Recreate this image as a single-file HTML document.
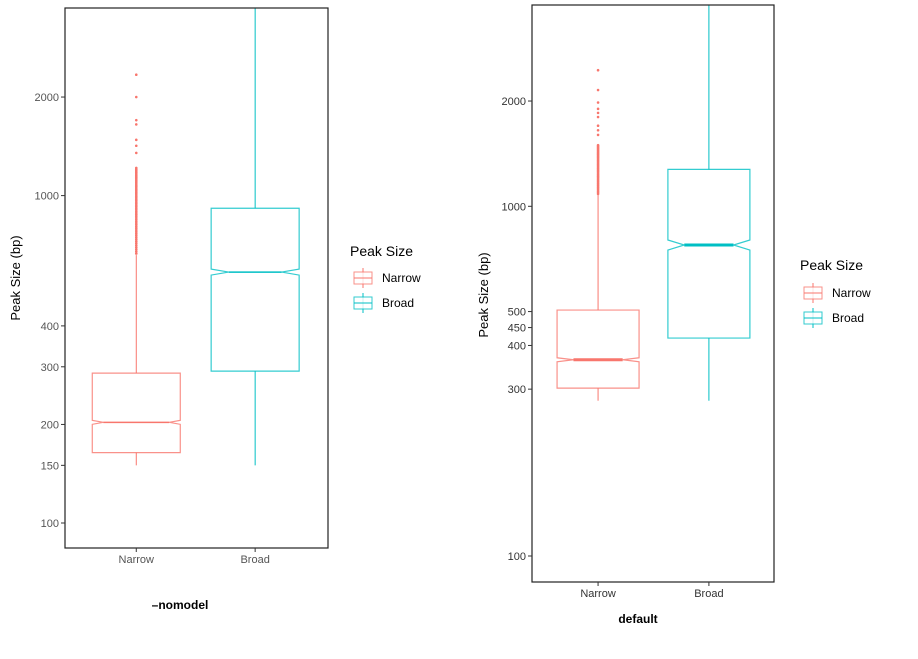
<!DOCTYPE html>
<html><head><meta charset="utf-8"><style>
body{margin:0;background:#fff;}
svg{display:block;font-family:"Liberation Sans",sans-serif;}
</style></head><body>
<svg id="chart" width="918" height="659"></svg>
<script>
const categories = ["Narrow", "Broad"];
// panel 1: --nomodel
const nomodelQ1 = [164, 291];
const nomodelMedian = [203, 584];
const nomodelQ3 = [287, 915];
const nomodelLow = [150, 150];
const nomodelHigh = [658, 4000];
const nomodelOutliers = [[665,675,685,695,705,715,725,735,745,755,765,775,785,795,805,815,825,835,845,855,865,875,885,895,905,915,925,935,945,955,965,975,985,995,1005,1015,1025,1035,1045,1055,1065,1075,1085,1095,1105,1115,1125,1135,1145,1155,1165,1175,1185,1195,1205,1215,1350,1420,1480,1650,1700,2000,2340],[]];
const nomodelTicks = [100,150,200,300,400,1000,2000];
// panel 2: default
const defaultQ1 = [302, 420];
const defaultMedian = [364, 775];
const defaultQ3 = [505, 1275];
const defaultLow = [278, 278];
const defaultHigh = [1080, 4000];
const defaultOutliers = [[1085,1095,1105,1115,1125,1135,1145,1155,1165,1175,1185,1195,1205,1215,1225,1235,1245,1255,1265,1275,1285,1295,1305,1315,1325,1335,1345,1355,1365,1375,1385,1395,1405,1415,1425,1435,1445,1455,1465,1475,1485,1495,1600,1650,1700,1800,1850,1900,1980,2150,2450],[]];
const defaultTicks = [100,300,400,450,500,1000,2000];
const colors = ["#F8766D","#00BFC4"];
const NS = "http://www.w3.org/2000/svg";
const svg = document.getElementById("chart");
function mk(tag, attrs, parent){const e=document.createElementNS(NS,tag);for(const k in attrs)e.setAttribute(k,attrs[k]);(parent||svg).appendChild(e);return e;}

function panel(cfg){
  const g = mk("g",{});
  
  
  const y = v => cfg.y100 - (Math.log10(v)-2)*cfg.pxDec;
  const x = i => cfg.x0 + (cfg.x1-cfg.x0)*(i===0?cfg.c[0]:cfg.c[1]);
  const defs = mk("clipPath",{id:cfg.name+"-clip"},g);
  mk("rect",{x:cfg.x0,y:cfg.y0,width:cfg.x1-cfg.x0,height:cfg.y1-cfg.y0},defs);
  const plot = mk("g",{"clip-path":"url(#"+cfg.name+"-clip)"},g);
  categories.forEach((c,i)=>{
    const cx=x(i), hw=cfg.hw, col=colors[i];
    const bg = mk("g",{},plot);
    
    
    const q1=y(cfg.q1[i]), q3=y(cfg.q3[i]), md=y(cfg.md[i]);
    const nh=cfg.notch[i], nw=hw*cfg.nwf[i];
    mk("line",{x1:cx,x2:cx,y1:y(cfg.high[i]),y2:q3,stroke:col,"stroke-width":1},bg);
    mk("line",{x1:cx,x2:cx,y1:q1,y2:y(cfg.low[i]),stroke:col,"stroke-width":1},bg);
    const p=`M${cx-hw},${q1} L${cx-hw},${md+nh} L${cx-nw},${md} L${cx-hw},${md-nh} L${cx-hw},${q3} L${cx+hw},${q3} L${cx+hw},${md-nh} L${cx+nw},${md} L${cx+hw},${md+nh} L${cx+hw},${q1} Z`;
    mk("path",{d:p,fill:"none",stroke:col,"stroke-width":1.2,opacity:0.8},bg);
    mk("line",{x1:cx-nw,x2:cx+nw,y1:md,y2:md,stroke:col,"stroke-width":cfg.mw},bg);
    cfg.out[i].forEach(v=>{
      const o=mk("circle",{cx:cx,cy:y(v),r:1.3,fill:col},bg);
      
      
    });
  });
  const fr=mk("rect",{x:cfg.x0,y:cfg.y0,width:cfg.x1-cfg.x0,height:cfg.y1-cfg.y0,fill:"none",stroke:"#222","stroke-width":1.2},g);
  
  
  cfg.ticks.forEach(t=>{
    const ty=y(t);
    mk("line",{x1:cfg.x0-4,x2:cfg.x0,y1:ty,y2:ty,stroke:"#333"},g);
    const tx=mk("text",{x:cfg.x0-6,y:ty+4,"text-anchor":"end","font-size":11,fill:cfg.tickCol},g);
    tx.textContent=t;
    
    
  });
  categories.forEach((c,i)=>{
    mk("line",{x1:x(i),x2:x(i),y1:cfg.y1,y2:cfg.y1+4,stroke:"#333"},g);
    const tx=mk("text",{x:x(i),y:cfg.y1+15,"text-anchor":"middle","font-size":11,fill:cfg.tickCol},g);
    tx.textContent=c;
    
    
  });
  const yt=mk("text",{x:0,y:0,transform:`translate(${cfg.ytx},${cfg.yty}) rotate(-90)`,"text-anchor":"middle","font-size":13,fill:"#000"},g);
  yt.textContent="Peak Size (bp)";
  
  
  const xt=mk("text",{x:cfg.xtx,y:cfg.xty,"text-anchor":"middle","font-size":12,"font-weight":"bold",fill:"#000"},g);
  xt.textContent=cfg.xtitle;
  
  
  const lg=mk("g",{},g);
  
  
  const lt=mk("text",{x:cfg.lx,y:cfg.ly,"font-size":14,fill:"#000"},lg);
  lt.textContent="Peak Size";
  
  
  categories.forEach((c,i)=>{
    const ey=cfg.ly+cfg.le0+i*cfg.ls;
    const eg=mk("g",{},lg);
    
    
    const kx=cfg.lx+3;
    mk("line",{x1:kx+10,x2:kx+10,y1:ey-10,y2:ey+10,stroke:colors[i]},eg);
    mk("rect",{x:kx+1,y:ey-6,width:18,height:12,fill:"#fff",stroke:colors[i],opacity:0.8},eg);
    mk("line",{x1:kx+1,x2:kx+19,y1:ey,y2:ey,stroke:colors[i]},eg);
    const et=mk("text",{x:kx+29,y:ey+4,"font-size":12,fill:"#000"},eg);
    et.textContent=c;
  });
}
panel({name:"nomodel-panel",x0:65,x1:328,y0:8,y1:548,y100:523,pxDec:327.4,c:[0.271,0.723],hw:44,notch:[2,3],nwf:[0.75,0.6],mw:1.5,
  q1:nomodelQ1,q3:nomodelQ3,md:nomodelMedian,low:nomodelLow,high:nomodelHigh,out:nomodelOutliers,ticks:nomodelTicks,tickCol:"#555",
  ytx:20,yty:278,xtitle:"–nomodel",xtx:180,xty:609,lx:350,ly:256,le0:22,ls:25});
panel({name:"default-panel",x0:532,x1:774,y0:5,y1:582,y100:556,pxDec:349.7,c:[0.273,0.731],hw:41,notch:[2,5],nwf:[0.6,0.6],mw:3,
  q1:defaultQ1,q3:defaultQ3,md:defaultMedian,low:defaultLow,high:defaultHigh,out:defaultOutliers,ticks:defaultTicks,tickCol:"#333",
  ytx:488,yty:295,xtitle:"default",xtx:638,xty:623,lx:800,ly:270,le0:23,ls:25});
</script>
</body></html>
